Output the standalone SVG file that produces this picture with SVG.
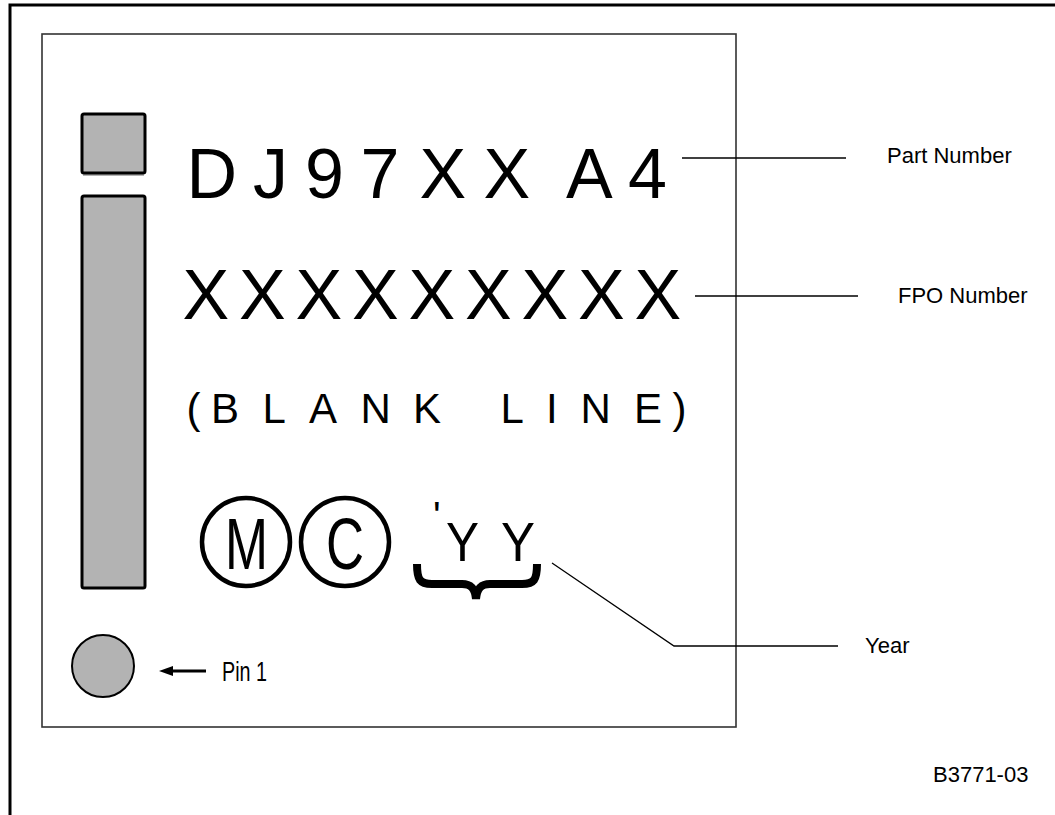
<svg xmlns="http://www.w3.org/2000/svg" width="1055" height="815" viewBox="0 0 1055 815">
<style>
  text { font-family: "Liberation Sans", Arial, sans-serif; fill: #000; }
  .big { font-size: 70px; }
  .mid { font-size: 42px; }
  .lbl { font-size: 22px; }
  .gray { fill: #b3b3b3; stroke: #000; stroke-width: 3; }
  .lead { stroke: #000; stroke-width: 1.3; fill: none; }
</style>
<defs>
  <marker id="arr" markerWidth="16" markerHeight="12" refX="7" refY="5" orient="auto" markerUnits="userSpaceOnUse">
    <path d="M0,0 L14,5 L0,10 Z" fill="#000"/>
  </marker>
</defs>
<rect width="1055" height="815" fill="#fff"/>
<g id="frame">
  <path d="M10,815 V5 H1055" fill="none" stroke="#000" stroke-width="3"/>
  <rect x="42" y="34" width="694" height="693" fill="none" stroke="#333" stroke-width="1.6"/>
</g>
<g id="square">
  <rect x="83" y="117" width="61" height="59" fill="#b3b3b3"/>
  <rect x="82" y="114" width="63" height="59" rx="2" class="gray"/>
</g>
<g id="bar">
  <rect x="82" y="196" width="63" height="392" rx="2" class="gray"/>
</g>
<g id="pin">
  <circle cx="103" cy="666" r="31" fill="#b3b3b3" stroke="#000" stroke-width="2"/>
  <text x="222" y="681" style="font-size:27px" textLength="45" lengthAdjust="spacingAndGlyphs">Pin 1</text>
</g>
<g id="line1">
  <text class="big" x="186.5 253 305 360.5 419.5 483.5 530 566 628" y="198">DJ97XX A4</text>
</g>
<g id="line2">
  <text class="big" x="182.5 239 295.5 352 408.5 465 521.5 578 634.5" y="319">XXXXXXXXX</text>
</g>
<g id="line3">
  <text class="mid" x="186.5 211 262.5 309 360.5 413 450 500.5 546 580.5 634 672.5" y="423">(BLANK LINE)</text>
</g>
<g id="mc">
  <circle cx="246" cy="542" r="44" fill="none" stroke="#000" stroke-width="4.5"/>
  <circle cx="345" cy="542" r="44" fill="none" stroke="#000" stroke-width="4.5"/>
  <text x="225" y="569" style="font-size:73px" textLength="43" lengthAdjust="spacingAndGlyphs">M</text>
  <text x="326" y="569" style="font-size:73px" textLength="38" lengthAdjust="spacingAndGlyphs">C</text>
</g>
<g id="year">
  <text x="433" y="530" style="font-size:40px">'</text>
  <text x="446" y="561" style="font-size:56px" textLength="33" lengthAdjust="spacingAndGlyphs">Y</text>
  <text x="501" y="561" style="font-size:56px" textLength="34" lengthAdjust="spacingAndGlyphs">Y</text>
  <path d="M417,564 C417,580 420,584 432,584 L462,584 C471,584 475,588 476,599 C477,588 481,584 490,584 L522,584 C534,584 537,580 537,564" fill="none" stroke="#000" stroke-width="8"/>
</g>
<g id="connectors">
  <line class="lead" x1="682" y1="158" x2="846" y2="158"/>
  <line class="lead" x1="695" y1="296" x2="858" y2="296"/>
  <polyline class="lead" points="552,563 674,646 838,646"/>
  <line x1="206" y1="671" x2="166" y2="671" stroke="#000" stroke-width="3" marker-end="url(#arr)"/>
</g>
<g id="labels">
  <text class="lbl" x="887" y="163">Part Number</text>
  <text class="lbl" x="898" y="303">FPO Number</text>
  <text class="lbl" x="865" y="653">Year</text>
  <text class="lbl" x="933" y="782">B3771-03</text>
</g>
</svg>
